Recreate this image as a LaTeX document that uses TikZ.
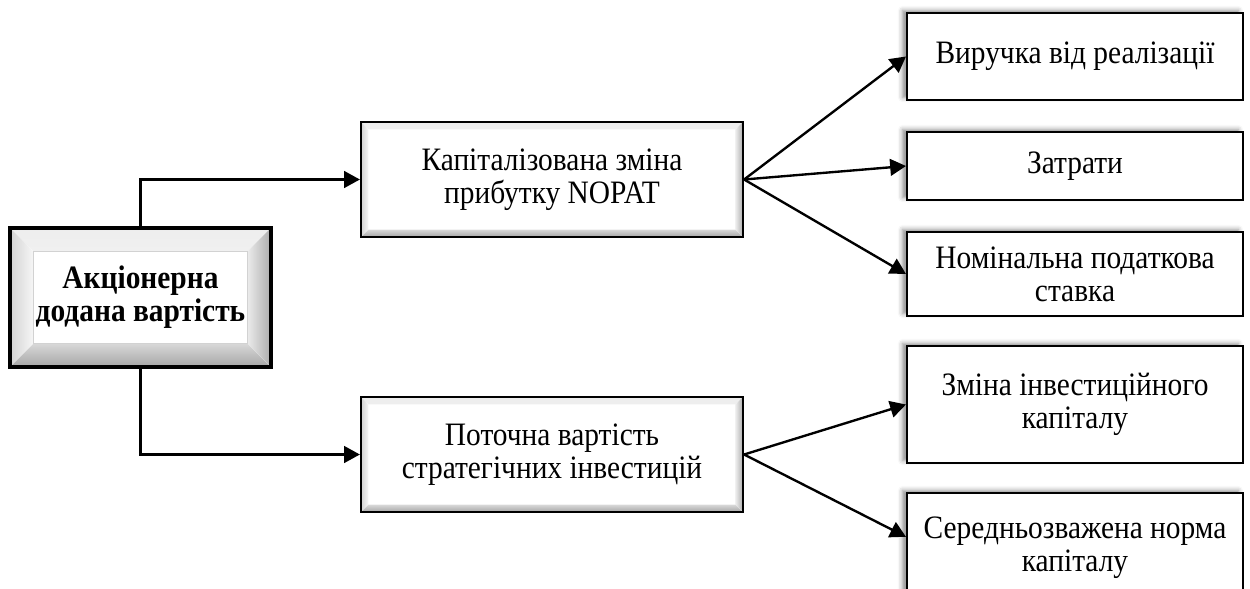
\documentclass[tikz,border=0pt]{standalone}
\usepackage{fontspec}
\setmainfont{Liberation Serif}[FakeStretch=0.9]
\usetikzlibrary{arrows.meta,calc,shadows.blur}

% Raised (bevelled) frame painted inside a node: four shaded bands of width #1,
% optional thin outline #2 around the flat face.
\newcommand\bevelpaint[2]{%
  \def\bw{#1}%
  % top band
  \fill[top color=gray!14, bottom color=white]
    let \p1=(path picture bounding box.south west), \p2=(path picture bounding box.north east) in
    (\x1,\y2) -- (\x2,\y2) -- (\x2-\bw,\y2-\bw) -- (\x1+\bw,\y2-\bw) -- cycle;
  % left band
  \fill[left color=gray!35, right color=gray!6]
    let \p1=(path picture bounding box.south west), \p2=(path picture bounding box.north east) in
    (\x1,\y1) -- (\x1,\y2) -- (\x1+\bw,\y2-\bw) -- (\x1+\bw,\y1+\bw) -- cycle;
  % right band
  \fill[left color=gray!15, right color=gray!65]
    let \p1=(path picture bounding box.south west), \p2=(path picture bounding box.north east) in
    (\x2,\y1) -- (\x2,\y2) -- (\x2-\bw,\y2-\bw) -- (\x2-\bw,\y1+\bw) -- cycle;
  % bottom band
  \fill[top color=gray!30, bottom color=gray!70]
    let \p1=(path picture bounding box.south west), \p2=(path picture bounding box.north east) in
    (\x1,\y1) -- (\x2,\y1) -- (\x2-\bw,\y1+\bw) -- (\x1+\bw,\y1+\bw) -- cycle;
  % outline of the flat face
  \draw[#2]
    let \p1=(path picture bounding box.south west), \p2=(path picture bounding box.north east) in
    (\x1+\bw,\y1+\bw) rectangle (\x2-\bw,\y2-\bw);
}

\begin{document}
\begin{tikzpicture}[x=0.02cm, y=-0.02cm,
  every node/.style={font=\fontsize{18.6}{18.9}\selectfont, align=center, inner sep=0pt},
  arr/.style={line width=1.35pt, -{Triangle[length=9pt,width=9.5pt]}},
  rootbox/.style={draw, line width=1.8pt, fill=white,
    minimum width=5.22cm, minimum height=2.78cm,
    font=\fontsize{18.6}{18.9}\selectfont\bfseries,
    path picture={\bevelpaint{13.6pt}{gray!35, line width=0.6pt}}},
  midbox/.style={draw, line width=1.3pt, fill=white,
    minimum width=7.64cm, minimum height=2.3cm,
    path picture={\bevelpaint{4.2pt}{draw=none}}},
  sidebox/.style={draw, line width=1.2pt, fill=white, minimum width=6.72cm,
    blur shadow={shadow xshift=-2.6pt, shadow yshift=1.4pt,
      shadow blur radius=2.6pt, shadow opacity=45}},
]
\useasboundingbox (0,0) rectangle (1250,588);
\clip (0,0) rectangle (1250,588);

% root
\node[rootbox] (root) at (140.5,297.5) {Акціонерна\\додана вартість};

% second level
\node[midbox] (cap) at (552,179.5) {Капіталізована зміна\\прибутку NOPAT};
\node[midbox] (inv) at (552,454.5) {Поточна вартість\\стратегічних інвестицій};

% third level
\node[sidebox, minimum height=1.74cm] (rev) at (1075,56.5) {Виручка від реалізації};
\node[sidebox, minimum height=1.36cm] (cost) at (1075,166) {Затрати};
\node[sidebox, minimum height=1.68cm] (tax) at (1075,274) {Номінальна податкова\\ставка};
\node[sidebox, minimum height=2.34cm] (dinv) at (1075,404.5) {Зміна інвестиційного\\капіталу};
\node[sidebox, minimum height=2.2cm] (wacc) at (1075,548) {Середньозважена норма\\капіталу};

% connectors
\draw[arr] (root.north) |- (cap.west);
\draw[arr] (root.south) |- (inv.west);

\draw[arr] (cap.east) -- (rev.west);
\draw[arr] (cap.east) -- (cost.west);
\draw[arr] (cap.east) -- (tax.west);

\coordinate (waccin) at ($(wacc.north west)!0.4!(wacc.south west)$);
\draw[arr] (inv.east) -- (dinv.west);
\draw[arr] (inv.east) -- (waccin);
\end{tikzpicture}
\end{document}
